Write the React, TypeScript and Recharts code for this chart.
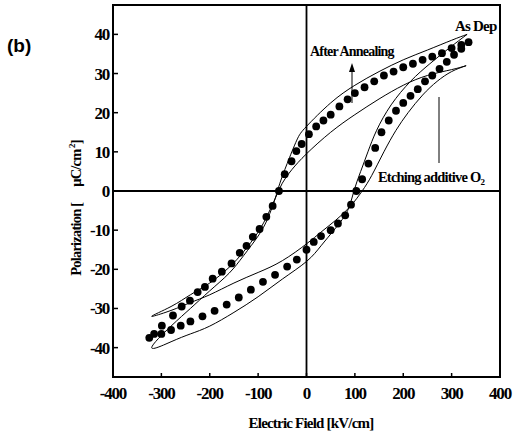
import React from "react";
import {
  ComposedChart,
  Line,
  Scatter,
  XAxis,
  YAxis,
  ReferenceLine,
  ReferenceArea,
} from "recharts";

// --- data (E in kV/cm, P in µC/cm²) ---
const xTicks = [-400, -300, -200, -100, 0, 100, 200, 300, 400];
const yTicks = [-40, -30, -20, -10, 0, 10, 20, 30, 40];

// dotted loop, descending branch then ascending branch
const dotsDown = [
  [335, 38], [320, 37.3], [300, 36.5], [280, 35.2], [260, 34.3], [240, 33.5],
  [220, 32.5], [200, 31.6], [180, 30.5], [160, 29.5], [140, 28], [120, 26.5],
  [100, 25], [85, 23.4], [68, 21.6], [50, 19.5], [35, 18], [20, 16.5], [5, 14.5],
  [-10, 12], [-21, 10.2], [-31, 7.6], [-45, 4.3], [-57, 0], [-70, -3.8],
  [-83, -6.6], [-97, -9.7], [-111, -11.7], [-124, -14], [-138, -15.8],
  [-155, -18.5], [-175, -20.6], [-194, -22.4], [-210, -24.5], [-225, -25.8],
  [-241, -28], [-258, -29.5], [-276, -31.8], [-299, -34.4], [-315, -36.5],
  [-325, -37.5],
];
const dotsUp = [
  [-300, -36.5], [-280, -35.5], [-260, -34.4], [-240, -33.3], [-215, -32],
  [-190, -30.6], [-165, -29], [-140, -27.2], [-115, -25.2], [-90, -23.2],
  [-65, -21.4], [-40, -19.3], [-20, -17.5], [0, -15], [15, -13], [30, -11.5],
  [50, -10], [65, -8.3], [80, -6.2], [92, -3.5], [103, 0], [115, 3], [128, 7],
  [142, 11], [155, 15], [170, 18], [185, 20.5], [200, 22.5], [215, 24.3],
  [230, 26], [245, 28], [260, 29.5], [275, 31.2], [290, 33], [305, 34.8],
  [320, 36.3],
];

// thin loop, etching additive O2 (tips about ±32)
const etchLoop = [
  [330, 32], [300, 31], [250, 29.5], [200, 27], [150, 23.5], [100, 19.5],
  [50, 15], [0, 9.5], [-30, 5.5], [-50, 2], [-65, -2], [-80, -6], [-100, -10.5],
  [-130, -15.5], [-160, -19.5], [-200, -23.5], [-240, -26.5], [-280, -29.5],
  [-320, -32], [-280, -30.5], [-240, -28.5], [-200, -26.5], [-150, -23.5],
  [-100, -20.8], [-50, -17.8], [0, -13.5], [30, -10.5], [60, -7.5], [90, -4],
  [115, 0], [135, 4], [160, 10], [185, 15.5], [210, 20], [240, 24.5],
  [270, 28], [300, 30.5], [330, 32],
];

// thin loop, after annealing (tips about ±40)
const annealLoop = [
  [332, 40], [300, 38.5], [250, 36], [200, 33.5], [150, 30.5], [100, 27],
  [50, 22.5], [0, 16.5], [-20, 13], [-40, 7], [-55, 2], [-65, -2], [-80, -7],
  [-100, -11.5], [-130, -16.5], [-160, -21], [-200, -25.5], [-240, -30],
  [-280, -34.5], [-320, -40], [-280, -38.5], [-240, -36.5], [-200, -34.5],
  [-150, -31], [-100, -27], [-50, -22.5], [0, -18], [30, -14], [60, -9.5],
  [85, -5], [98, 0], [112, 5], [127, 10], [145, 15.5], [175, 22], [215, 28],
  [255, 32.5], [295, 36.5], [332, 40],
];

const toPts = (a: number[][]) => a.map(([x, y]) => ({ x, y }));

const FONT = "'Times New Roman', 'Liberation Serif', 'DejaVu Serif', serif";
const serif = { fontFamily: FONT, fontWeight: 700 };
const PLOT_LEFT = 113;
const PLOT_BOTTOM = 377;

const XTick = (props: any) => {
  const { x, payload } = props;
  return (
    <g>
      <line x1={x} x2={x} y1={PLOT_BOTTOM} y2={PLOT_BOTTOM - 4} stroke="#000" strokeWidth={1.5} />
      <text x={x} y={399} textAnchor="middle" fontSize={17} letterSpacing={-1.2} fill="#000" style={serif}>
        {payload.value}
      </text>
    </g>
  );
};

const YTick = (props: any) => {
  const { y, payload } = props;
  return (
    <g>
      <line x1={PLOT_LEFT} x2={PLOT_LEFT + 5} y1={y} y2={y} stroke="#000" strokeWidth={1.5} />
      <text x={109} y={y + 6} textAnchor="end" fontSize={17} letterSpacing={-1.2} fill="#000" style={serif}>
        {payload.value}
      </text>
    </g>
  );
};

const Dot = (props: any) => <circle cx={props.cx} cy={props.cy} r={3.9} fill="#000" />;

export default function App() {
  return (
    <div style={{ position: "absolute", left: 0, top: 0, width: 514, height: 437, background: "#fff" }}>
      <ComposedChart width={514} height={437} margin={{ top: 5, right: 14, bottom: 0, left: 0 }}>
        <XAxis
          type="number"
          dataKey="x"
          domain={[-400, 400]}
          ticks={xTicks}
          axisLine={false}
          tickLine={false}
          height={60}
          tick={<XTick />}
          allowDataOverflow
        />
        <YAxis
          type="number"
          dataKey="y"
          domain={[-47.5, 47.5]}
          ticks={yTicks}
          axisLine={false}
          tickLine={false}
          width={113}
          tick={<YTick />}
          allowDataOverflow
        />
        <ReferenceLine x={0} stroke="#000" strokeWidth={1.8} />
        <ReferenceLine y={0} stroke="#000" strokeWidth={1.8} />
        <Line
          data={toPts(etchLoop)}
          dataKey="y"
          type="natural"
          stroke="#000"
          strokeWidth={1}
          dot={false}
          isAnimationActive={false}
        />
        <Line
          data={toPts(annealLoop)}
          dataKey="y"
          type="natural"
          stroke="#000"
          strokeWidth={1}
          dot={false}
          isAnimationActive={false}
        />
        <Scatter data={toPts(dotsDown)} shape={<Dot />} isAnimationActive={false} />
        <Scatter data={toPts(dotsUp)} shape={<Dot />} isAnimationActive={false} />
        <ReferenceArea
          x1={-400}
          x2={400}
          y1={-47.5}
          y2={47.5}
          fill="none"
          fillOpacity={0}
          stroke="#000"
          strokeWidth={2}
        />
      </ComposedChart>
      <svg
        width={514}
        height={437}
        style={{ position: "absolute", left: 0, top: 0, pointerEvents: "none" }}
      >
        <text x={7} y={52} fontSize={19} fill="#000" style={{ fontFamily: "'Liberation Sans', Arial, sans-serif", fontWeight: 700 }}>
          (b)
        </text>
        <g fill="#000" letterSpacing={-0.8} style={serif}>
          <text x={455} y={31} fontSize={15}>As Dep</text>
          <text x={310} y={56} fontSize={14}>After Annealing</text>
          <text x={378} y={182} fontSize={14.5}>
            Etching additive O<tspan fontSize={9} dy={3}>2</tspan>
          </text>
          <text x={311} y={428} fontSize={15} textAnchor="middle">Electric Field [kV/cm]</text>
          <text transform="translate(81,208) rotate(-90)" fontSize={14.5} textAnchor="middle">
            Polarization [<tspan dx={16}>μC/cm</tspan><tspan dy={-6} fontSize={9}> 2</tspan><tspan dy={6}>]</tspan>
          </text>
        </g>
        <line x1={352} x2={352} y1={66} y2={103} stroke="#000" strokeWidth={1} />
        <path d="M349,72 L352,63 L355,72 Z" fill="#000" />
        <line x1={439} x2={439} y1={97} y2={163} stroke="#000" strokeWidth={1} />
      </svg>
    </div>
  );
}
